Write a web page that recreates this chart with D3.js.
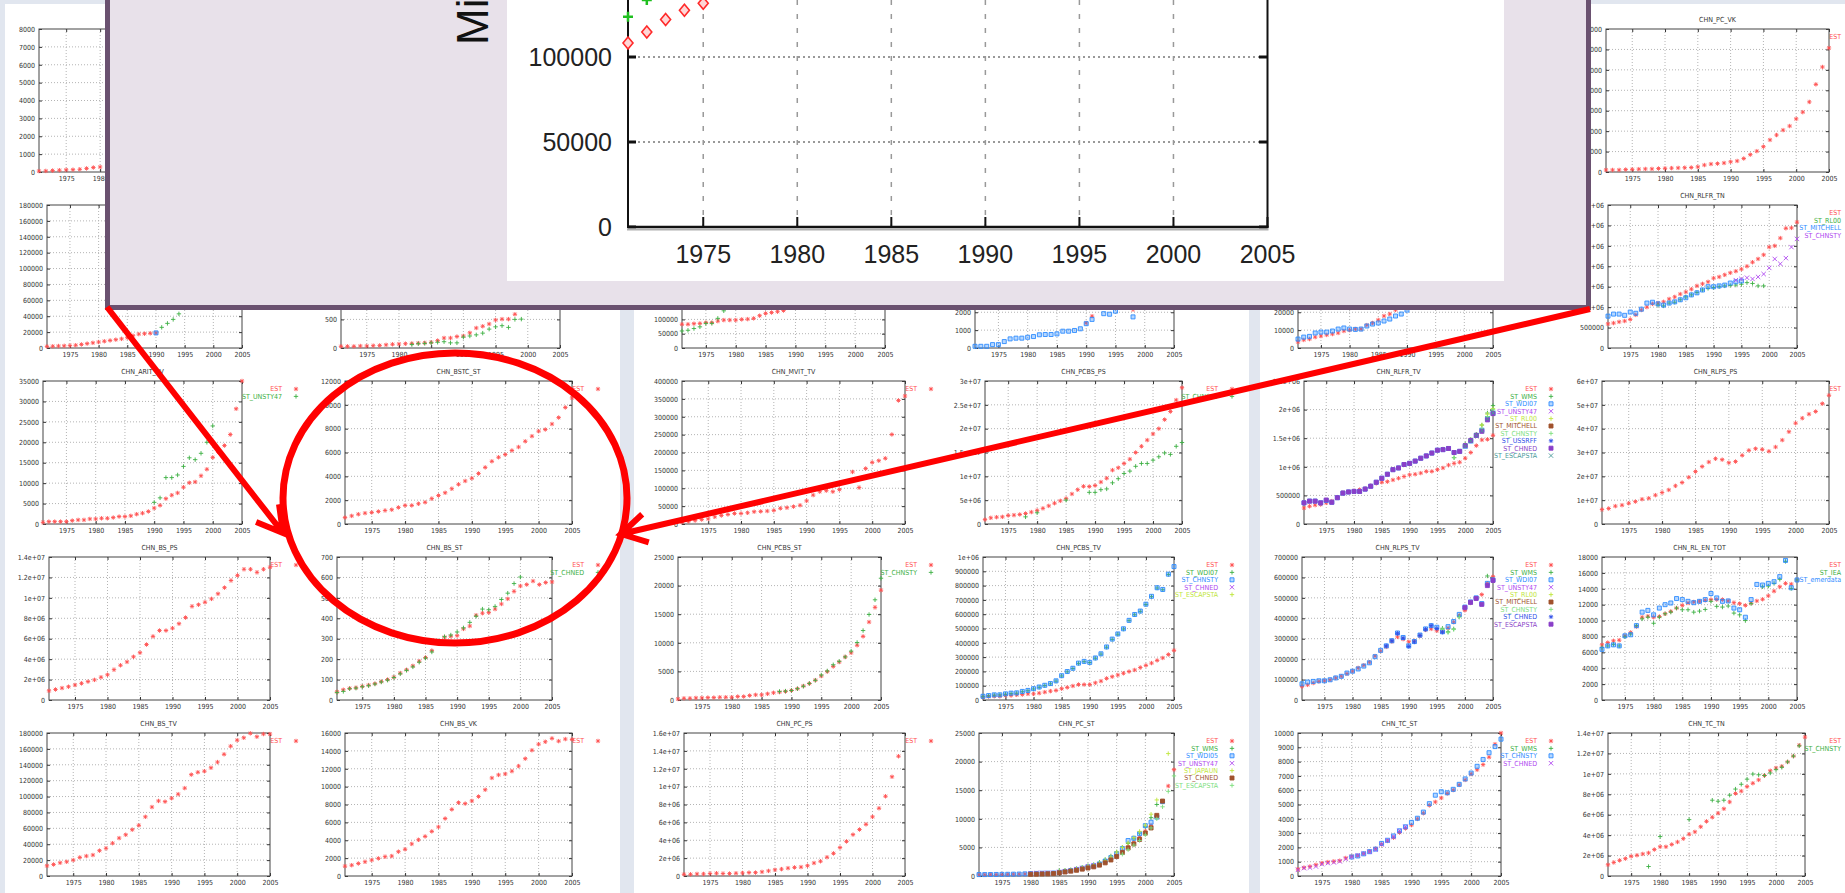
<!DOCTYPE html>
<html>
<head>
<meta charset="utf-8">
<script src="https://cdn.jsdelivr.net/npm/d3@7"></script>
<style>
  body { margin: 0; background: #e1e6ef; overflow: hidden; }
  svg { display: block; }
</style>
</head>
<body>
<svg id="chart" width="1845" height="893"></svg>
<script>
// x axis shared by every small plot
const xTicks = [1975, 1980, 1985, 1990, 1995, 2000, 2005];

// ---- panel 1 ----
const p1r1Est = [50, 60, 80, 100, 120, 130, 150, 200, 250, 280];
const p1r2Est = [2000, 2200, 2500, 2700, 3000, 3500, 4500, 5500, 6500, 7500, 8500, 9500, 10500, 11500, 13000, 15500, 17500, 18000, 18500, 19000];
const p1r2Green = [26000, 31000, 36000, 43000];
const p1r2Blue = [19000];
const p1r2bEst = [29, 29, 29, 35, 35, 40, 45, 55, 65, 70, 75, 80, 85, 90, 100, 130, 175, 175, 200, 210, 265, 350, 380, 420, 490, 505, 505, 590];
const p1r2bGreen = [60, 75, 80, 90, 100, 110, 90, 90, 190, 210, 230, 260, 330, 370, 390, 360, 500, 505];
const aritEst = [400, 580, 580, 580, 580, 830, 1000, 1000, 1240, 1240, 1400, 1400, 1575, 1820, 1820, 2000, 2400, 2650, 3070, 3900, 4560, 6200, 7050, 7600, 9000, 10100, 10300, 11800, 13400, 16300, 17500, 19200, 21900, 28200, 35000];
const aritUnsty = [5300, 6400, 11360, 11360, 12000, 14100, 16200, 15750, 17300, 20000, 24000];
const bstcEst = [540, 680, 820, 910, 970, 1050, 1140, 1200, 1390, 1560, 1560, 1700, 1820, 2130, 2390, 2620, 2960, 3330, 3610, 3840, 4240, 4750, 5260, 5600, 5830, 6170, 6460, 6940, 7370, 7790, 7930, 8390, 8930, 9780, 10580];
const bsPsEst = [0.9e6, 1.03e6, 1.17e6, 1.3e6, 1.47e6, 1.63e6, 1.8e6, 1.97e6, 2.23e6, 2.47e6, 2.97e6, 3.4e6, 3.73e6, 4.23e6, 4.63e6, 5.43e6, 6.23e6, 6.8e6, 6.8e6, 7.03e6, 7.47e6, 8.07e6, 9.17e6, 9.33e6, 9.57e6, 9.9e6, 10.4e6, 11.0e6, 11.7e6, 12.2e6, 12.8e6, 12.8e6, 12.5e6, 12.8e6, 13.0e6];
const bsStEst = [40, 50, 57, 60, 67, 73, 80, 90, 100, 112, 132, 148, 167, 190, 208, 242, 278, 308, 312, 315, 348, 362, 415, 425, 428, 445, 470, 495, 532, 558, 565, 582, 565, 575, 578];
const bsStChned = [37, 42, 55, 58, 65, 70, 78, 88, 97, 110, 128, 145, 162, 185, 205, 235, 290, 310, 318, 333, 353, 380, 410, 445, 442, 458, 492, 523, 570, 602];
const bsTvEst = [12800, 14500, 16600, 17900, 20000, 23400, 25100, 26400, 31900, 34900, 41300, 47700, 51900, 58300, 63800, 74500, 86800, 94500, 93600, 97900, 103000, 110600, 127600, 130600, 131900, 136200, 143400, 153200, 163400, 171000, 174000, 179600, 175300, 178700, 178700];
const bsVkEst = [1100, 1210, 1400, 1590, 1780, 1970, 2160, 2230, 2720, 2990, 3590, 4050, 4430, 4990, 5490, 6430, 7450, 8210, 8100, 8400, 8890, 9650, 10970, 11310, 11420, 11730, 12300, 13130, 14070, 14750, 15020, 15400, 15090, 15320, 15280];

// ---- panel 2 ----
const p2r2Est = [83000, 83000, 85000, 86000, 89000, 89000, 94000, 97600, 97600, 97600, 100000, 101000, 103600, 113000, 121000, 124000, 127000, 131000];
const p2r2Green = [59500, 62000, 68000, 74000, 86000, 86000, 103600, 130000, 141700];
const p2r2bEst = [1400, 1780, null, null, null, null, null, null, 2150];
const p2r2bBlue = [95, 95, 95, 190, 190, 360, 510, 550, 550, 600, 640, 740, 755, 755, 790, 940, 940, 980, 1075, 1360, 1600, null, 1920, 1890, 2060, null, null, 1740];
const mvitEst = [4800, 7600, 9500, 12400, 14300, 20000, 23800, 26700, 29500, 29500, 31400, 34300, 35200, 36200, 38100, 43800, 45700, 48600, 52400, 64700, 80900, 90400, 93300, 90400, 96200, 118000, 145700, 101900, 155200, 172300, 177100, 183700, 250400, 345600, 358000];
const pcbsPsEst = [0.93e6, 1.29e6, 1.43e6, 1.5e6, 1.79e6, 1.86e6, 2.0e6, 2.2e6, 2.5e6, 2.86e6, 3.29e6, 3.8e6, 4.36e6, 4.86e6, 5.36e6, 6.3e6, 7.2e6, 7.9e6, 7.86e6, 8.07e6, 8.8e6, 9.6e6, 11.3e6, 11.8e6, 12.7e6, 13.6e6, 15.0e6, 16.3e6, 17.6e6, 18.9e6, 20.0e6, 21.9e6, 23.6e6, 26.0e6, 28.6e6];
const pcbsPsChnsty = [1.5e6, null, 2.36e6, null, null, null, null, 5.0e6, null, null, null, 6.64e6, 6.64e6, 7.2e6, 7.36e6, 8.64e6, 9.5e6, 10.6e6, 11.1e6, 12.1e6, 12.7e6, 12.7e6, 13.4e6, 14.1e6, 14.9e6, 14.6e6, 16.3e6, 17.1e6];
const pcbsStEst = [180, 300, 300, 360, 360, 420, 420, 480, 480, 480, 600, 600, 780, 900, 900, 1080, 1260, 1380, 1500, 1670, 1970, 2450, 2870, 3470, 4190, 4960, 5860, 6640, 7530, 8250, 9570, 11120, 13630, 16200, 19200];
const pcbsStChnsty = [1500, 1560, 1670, 1970, 2400, 2900, 3450, 4370, 5080, 6160, 6760, 7530, 8550, 10050, 12140, 14950, 17520, 21290];
const pcbsTvEst = [19000, 24000, 26000, 26000, 31000, 31000, 36000, 38000, 43000, 43000, 48000, 55000, 62000, 67000, 79000, 88000, 98000, 108000, 108000, 108000, 120000, 132000, 151000, 163000, 175000, 187000, 199000, 210000, 227000, 242000, 258000, 277000, 294000, 318000, 347000];
const pcbsTvWdi = [24000, 29000, 34000, 36000, 41000, 46000, 48000, 58000, 65000, 77000, 89000, 101000, 113000, 132000, 168000, 197000, 220000, 256000, 268000, 262000, 292000, 321000, 369000, 424000, 460000, 496000, 555000, 596000, 620000, 668000, 723000, 783000, 771000, 878000];
const pcbsTvChnsty = [26000, 31000, 36000, 36000, 43000, 48000, 50000, 60000, 67000, 79000, 91000, 103000, 115000, 134000, 170000, 199000, 222000, 258000, 270000, 263000, 294000, 323000, 371000, 426000, 462000, 498000, 557000, 598000, 622000, 670000, 725000, 785000, 773000, 880000, 933000];
const pcPsEst = [0.19e6, 0.19e6, 0.23e6, 0.23e6, 0.27e6, 0.31e6, 0.27e6, 0.27e6, 0.31e6, 0.34e6, 0.38e6, 0.38e6, 0.46e6, 0.57e6, 0.69e6, 0.77e6, 0.88e6, 0.96e6, 1.0e6, 1.15e6, 1.45e6, 1.65e6, 2.1e6, 2.53e6, 3.18e6, 3.87e6, 4.63e6, 5.2e6, 5.78e6, 6.62e6, 7.58e6, 8.92e6, 11.1e6, 13.4e6];
const pcStEst = [200, 220, 240, 250, 260, 280, 300, 320, 350, 400, 420, 450, 480, 500, 620, 780, 900, 1080, 1260, 1500, 1670, 1970, 2450, 2990, 3650, 4370, 5140, 5860, 6760, 7830, 8850, 10460, 13040, 15730, 18600];
const pcStWms = [960, 1000, 1100, 1300, 1500, 1800, 2000, 2400, 2900, 3500, 4200, 5000, 5700, 6500, 7500, 8600, 10200, 12500];
const pcStWdi = [250, 250, 260, 270, 280, 300, 320, 340, 370, 420, 450, 480, 500, 520, 650, 800, 950, 1150, 1350, 1600, 1800, 2100, 2600, 3200, 3900, 4800, 6200, 6600, 7400, 8800, 9400, 10300, 13000];
const pcStUnsty = [450, 500, 550, 550, 550, 700, 800, 900, 1200, 1400, 1700, 1900];
const pcStJapaun = [780, 900, 1000, 1200, 1400, 1700, 1900, 2200, 2700, 3300, 4200, 5000, 5800, 6700, 7800, 8900, 10800, 13300, null, 21400];
const pcStChned = [300, 320, 350, 380, 420, 550, 700, 850, 1000, 1200, 1400, 1600, 1900, 2300, 2800, 3400, 4100, 4900, 5600, 6400, 7500, 8400, 10600, 13100];
const pcStEscap = [3800, 4600, 5400, 6200, 7200, 8400, 10000, 12100, 14800, 17500];

// ---- panel 3 ----
const pcVkEst = [10000, 10000, 10000, 12000, 13000, 14000, 15000, 15000, 17000, 18000, 19000, 20000, 21000, 22000, 25000, 34000, 39000, 41000, 44000, 50000, 54000, 66000, 85000, 102000, 124000, 157000, 181000, 205000, 225000, 260000, 293000, 343000, 429000, 514000, 607000];
const p3r2Est = [3400, 4500, 5000, 6100, 6700, 7300, 7800, 8400, 9500, 10000, 10600, 10600, 12800, 14000, 15700, 17900, 19000, 21300];
const p3r2Blue = [5000, 6100, 6500, 8400, 8900, 8900, 9500, 10600, 11200, 10600, 10400, 10600, 12300, 13400, 14000, 15100, 16200, 17900, 19000, 21200];
const rlfrTnEst = [0.59e6, 0.61e6, 0.64e6, 0.66e6, 0.70e6, 0.81e6, 0.93e6, 1.0e6, 1.08e6, 1.1e6, 1.13e6, 1.2e6, 1.25e6, 1.32e6, 1.37e6, 1.44e6, 1.52e6, 1.57e6, 1.62e6, 1.71e6, 1.74e6, 1.79e6, 1.84e6, 1.88e6, 1.93e6, 2.0e6, 2.1e6, 2.18e6, 2.28e6, 2.47e6, 2.5e6, 2.69e6, 2.93e6, 2.94e6, 3.08e6];
const rlfrTnRl00 = [1.05e6, 1.03e6, 1.1e6, 1.12e6, 1.18e6, 1.25e6, 1.3e6, 1.36e6, 1.42e6, 1.46e6, 1.48e6, 1.5e6, 1.52e6, 1.53e6, 1.54e6, 1.56e6, 1.6e6, 1.58e6, 1.52e6, 1.52e6];
const rlfrTnMitchell = [0.78e6, 0.83e6, 0.83e6, 0.8e6, 0.88e6, 0.85e6, 0.95e6, 1.1e6, 1.12e6, 1.08e6, 1.05e6, 1.1e6, 1.13e6, 1.18e6, 1.23e6, 1.3e6, 1.35e6, 1.42e6, 1.5e6, 1.5e6, 1.52e6, 1.54e6, 1.59e6, 1.62e6, 1.64e6];
const rlfrTnChnsty = [1.66e6, 1.69e6, 1.72e6, 1.69e6, 1.74e6, 1.81e6, 1.96e6, 2.18e6, 2.06e6, 2.2e6, 2.47e6, 2.67e6];
const rlfrTvEst = [0.28e6, 0.31e6, 0.33e6, 0.34e6, 0.37e6, 0.40e6, 0.46e6, 0.55e6, 0.56e6, 0.58e6, 0.6e6, 0.62e6, 0.67e6, 0.71e6, 0.73e6, 0.74e6, 0.77e6, 0.8e6, 0.83e6, 0.86e6, 0.87e6, 0.89e6, 0.92e6, 0.92e6, 0.95e6, 0.98e6, 1.03e6, 1.06e6, 1.08e6, 1.15e6, 1.25e6, 1.37e6, 1.47e6, 1.48e6, 1.55e6];
const rlfrTvWms = [1.29e6, 1.31e6, 1.32e6, 1.16e6, 1.27e6, 1.40e6, 1.48e6, 1.57e6, 1.73e6, 1.94e6, 2.07e6];
const rlfrTvWdi = [0.37e6, 0.40e6, 0.40e6, 0.37e6, 0.41e6, 0.38e6, 0.46e6, 0.54e6, 0.56e6, 0.57e6, 0.57e6, 0.61e6, 0.66e6, 0.73e6, 0.80e6, 0.87e6, 0.95e6, 0.98e6, 1.04e6, 1.06e6, 1.10e6, 1.15e6, 1.19e6, 1.24e6, 1.29e6, 1.30e6, 1.32e6, 1.25e6, 1.27e6, 1.36e6, 1.45e6, 1.55e6, 1.64e6, 1.84e6, 1.94e6];
const rlfrTvRl00 = [1.38e6, 1.47e6, 1.56e6, 1.73e6, 1.92e6, 2.02e6];
const rlfrTvChnsty = [0.8e6, 0.87e6, 0.95e6, 0.98e6, 1.04e6, 1.06e6, 1.10e6, 1.15e6, 1.19e6, 1.24e6, 1.29e6, 1.3e6, 1.32e6, 1.16e6, 1.27e6, 1.38e6, 1.47e6, 1.55e6, 1.66e6, 1.88e6, 2.0e6];
const rlfrTvChned = [0.37e6, 0.40e6, 0.40e6, 0.37e6, 0.42e6, 0.38e6, 0.46e6, 0.54e6, 0.56e6, 0.57e6, 0.57e6, 0.61e6, 0.66e6, 0.73e6, 0.80e6, 0.87e6, 0.95e6, 0.98e6, 1.04e6, 1.06e6, 1.10e6, 1.15e6, 1.19e6, 1.24e6, 1.29e6, 1.30e6, 1.32e6, 1.25e6, 1.27e6, 1.37e6, 1.46e6, 1.55e6, 1.62e6, 1.82e6, 1.93e6];
const rlfrTvEscap = [1.36e6, 1.45e6, 1.55e6, 1.63e6, 1.84e6, 1.94e6];
const rlpsPsEst = [0.61e7, 0.65e7, 0.75e7, 0.79e7, 0.87e7, 0.94e7, 1.04e7, 1.08e7, 1.21e7, 1.32e7, 1.43e7, 1.6e7, 1.74e7, 1.96e7, 2.2e7, 2.41e7, 2.6e7, 2.74e7, 2.7e7, 2.57e7, 2.62e7, 2.88e7, 3.09e7, 3.16e7, 3.13e7, 3.05e7, 3.23e7, 3.52e7, 3.87e7, 4.23e7, 4.44e7, 4.61e7, 4.72e7, 5.05e7, 5.4e7];
const rlpsTvEst = [66000, 74000, 83000, 91000, 94000, 99000, 108000, 116000, 129000, 141000, 157000, 170000, 185000, 215000, 240000, 260000, 286000, 309000, 298000, 285000, 290000, 314000, 343000, 348000, 339000, 334000, 352000, 381000, 414000, 439000, 475000, 497000, 516000, 571000, 604000];
const rlpsTvWms = [351000, 334000, 348000, 409000, null, null, null, null, 607000];
const rlpsTvWdi = [79000, 88000, 91000, 94000, 94000, 99000, 108000, 116000, 132000, 141000, 152000, 166000, 182000, 212000, 243000, 265000, 290000, 328000, 306000, 265000, 286000, 318000, 348000, 364000, 356000, 334000, 359000, 384000, 419000, 455000, 480000, 500000, 472000, 571000, 588000];
const rlpsTvChnsty = [345000, 330000, 345000, 405000];
const rlpsTvChned = [265000, 290000, 326000, 303000, 262000, 284000, 316000, 346000, 364000, 350000, 332000];
const rlpsTvEscap = [452000, 478000, 497000, 468000, 560000, 585000];
const rlEnEst = [6940, 7230, 7450, 7530, 8080, 8510, 9230, 10420, 10550, 10420, 10510, 10850, 11150, 11570, 11910, 12210, 12340, 12420, 12550, 12640, 12640, 12640, 12470, 12250, 12130, 11910, 12210, 12470, 12680, 13110, 13700, 14250, 14680, 14590, 15110];
const rlEnIea = [6600, 6800, 7000, 6800, 7960, 8300, 9360, 10210, 10420, 9660, 10420, 10850, 11060, 11570, 11360, 11360, 11060, 11190, 11400, 12420, 11790, 11700, 11830, 10940, 10720, 10000, 12130, null, 14250, 14340, 14680, 15190, 17450, 14040, 15110];
const rlEnEmer = [6380, 6810, 6940, 6810, 8080, 8210, 9360, 11060, 11280, 10720, 11570, 12000, 12210, 12770, 12640, 12420, 12250, 12420, 12640, 13400, 12850, 12420, 12470, 11570, 11360, 10420, 12640, 14550, 14470, 14680, 14890, 15530, 17570, 14130, 15110];
const tcStEst = [475, 590, 665, 780, 900, 975, 1020, 1070, 1260, 1380, 1425, 1570, 1730, 1920, 2210, 2450, 2680, 3040, 3330, 3560, 3990, 4390, 4940, 5180, 5460, 5770, 6010, 6370, 6720, 7130, 7430, 7790, 8310, 9220, 10000];
const tcStChnsty = [1330, 1400, 1550, 1700, 1880, 2280, 2500, 2800, 3160, 3440, 3750, 4040, 4470, 5060, 5650, 5890, 5820, 6060, 6410, 6790, 7200, 7670, 8150, 8620, 9050, 9570];
const tcStChned = [430, 550, 590, 665, 830, 900, 950, 1020, 1190, 1330, 1450, 1570, 1690, 1850, 2210, 2490, 2750, 3160, 3440];
const tcTnEst = [1.1e6, 1.33e6, 1.53e6, 1.7e6, 1.93e6, 2.03e6, 2.16e6, 2.26e6, 2.59e6, 2.86e6, 2.86e6, 3.09e6, 3.33e6, 3.66e6, 4.09e6, 4.32e6, 4.82e6, 5.35e6, 5.75e6, 6.15e6, 6.58e6, 7.25e6, 8.08e6, 8.31e6, 8.75e6, 9.08e6, 9.41e6, 9.84e6, 10.3e6, 10.57e6, 10.74e6, 11.17e6, 11.74e6, 12.8e6, 13.6e6];
const tcTnChnsty = [0.93e6, null, 3.86e6, null, null, null, null, 5.52e6, null, null, null, 7.42e6, 7.32e6, 7.42e6, 7.91e6, 8.51e6, 8.98e6, 9.48e6, 9.98e6, 9.91e6, 9.84e6, 10.08e6, 10.41e6, 10.64e6, 11.17e6, 11.74e6, 12.74e6];

// ---- magnified plot in the overlay ----
const bigEst = [108200, 114700, 122000, 127500, 131600];
const bigGreen = [123700, 133500];
const bigYTicks = [0, 50000, 100000];

// each plot: panel, column, row, title, y range, key names, [first year, values] per series
const charts = [
  { p: 0, c: 0, r: 0, title: "", yMax: 8000, yStep: 1000, key: ["EST"], series: [[1971, p1r1Est]] },
  { p: 0, c: 0, r: 1, title: "", yMax: 180000, yStep: 20000, key: ["", "", ""], keyChars: 10, series: [[1971, p1r2Est], [1991, p1r2Green], [1990, p1r2Blue]] },
  { p: 0, c: 1, r: 1, title: "", yMax: 2500, yStep: 500, key: ["", ""], keyChars: 6, series: [[1971, p1r2bEst], [1982, p1r2bGreen]] },
  { p: 0, c: 0, r: 2, title: "CHN_ARIT_TV", yMax: 35000, yStep: 5000, key: ["EST", "ST_UNSTY47"], series: [[1971, aritEst], [1990, aritUnsty]] },
  { p: 0, c: 1, r: 2, title: "CHN_BSTC_ST", yMax: 12000, yStep: 2000, key: ["EST"], series: [[1971, bstcEst]] },
  { p: 0, c: 0, r: 3, title: "CHN_BS_PS", yMax: 1.4e7, yStep: 2e6, key: ["EST"], series: [[1971, bsPsEst]] },
  { p: 0, c: 1, r: 3, title: "CHN_BS_ST", yMax: 700, yStep: 100, key: ["EST", "ST_CHNED"], series: [[1971, bsStEst], [1971, bsStChned]] },
  { p: 0, c: 0, r: 4, title: "CHN_BS_TV", yMax: 180000, yStep: 20000, key: ["EST"], series: [[1971, bsTvEst]] },
  { p: 0, c: 1, r: 4, title: "CHN_BS_VK", yMax: 16000, yStep: 2000, key: ["EST"], series: [[1971, bsVkEst]] },

  { p: 1, c: 0, r: 1, title: "", yMax: 500000, yStep: 50000, key: ["", ""], keyChars: 8, series: [[1971, p2r2Est], [1971, p2r2Green]] },
  { p: 1, c: 1, r: 1, title: "", yMax: 8000, yStep: 1000, key: ["", "", ""], keyChars: 11, series: [[1990, p2r2bEst], [1971, []], [1971, p2r2bBlue]] },
  { p: 1, c: 0, r: 2, title: "CHN_MVIT_TV", yMax: 400000, yStep: 50000, key: ["EST"], series: [[1971, mvitEst]] },
  { p: 1, c: 1, r: 2, title: "CHN_PCBS_PS", yMax: 3e7, yStep: 5e6, key: ["EST", "ST_CHNSTY"], series: [[1971, pcbsPsEst], [1978, pcbsPsChnsty]] },
  { p: 1, c: 0, r: 3, title: "CHN_PCBS_ST", yMax: 25000, yStep: 5000, key: ["EST", "ST_CHNSTY"], series: [[1971, pcbsStEst], [1988, pcbsStChnsty]] },
  { p: 1, c: 1, r: 3, title: "CHN_PCBS_TV", yMax: 1e6, yStep: 1e5, key: ["EST", "ST_WDI07", "ST_CHNSTY", "ST_CHNED", "ST_ESCAPSTA"], series: [[1971, pcbsTvEst], [1971, pcbsTvWdi], [1971, pcbsTvChnsty]] },
  { p: 1, c: 0, r: 4, title: "CHN_PC_PS", yMax: 1.6e7, yStep: 2e6, key: ["EST"], series: [[1971, pcPsEst]] },
  { p: 1, c: 1, r: 4, title: "CHN_PC_ST", yMax: 25000, yStep: 5000, key: ["EST", "ST_WMS", "ST_WDI05", "ST_UNSTY47", "ST_JAPAUN", "ST_CHNED", "ST_ESCAPSTA"],
    series: [[1971, pcStEst], [1985, pcStWms], [1971, pcStWdi], [1980, pcStUnsty], [1985, pcStJapaun], [1980, pcStChned], [1996, pcStEscap]] },

  { p: 2, c: 1, r: 0, title: "CHN_PC_VK", yMax: 700000, yStep: 100000, key: ["EST"], series: [[1971, pcVkEst]] },
  { p: 2, c: 0, r: 1, title: "", yMax: 80000, yStep: 10000, key: ["", "", ""], keyChars: 11, series: [[1971, p3r2Est], [1971, []], [1971, p3r2Blue]] },
  { p: 2, c: 1, r: 1, title: "CHN_RLFR_TN", yMax: 3.5e6, yStep: 5e5, key: ["EST", "ST_RL00", "ST_MITCHELL", "ST_CHNSTY"],
    series: [[1971, rlfrTnEst], [1980, rlfrTnRl00], [1971, rlfrTnMitchell], [1994, rlfrTnChnsty]] },
  { p: 2, c: 0, r: 2, title: "CHN_RLFR_TV", yMax: 2.5e6, yStep: 5e5,
    key: ["EST", "ST_WMS", "ST_WDI07", "ST_UNSTY47", "ST_RL00", "ST_MITCHELL", "ST_CHNSTY", "ST_USSRFF", "ST_CHNED", "ST_ESCAPSTA"],
    series: [[1971, rlfrTvEst], [1995, rlfrTvWms], [1971, rlfrTvWdi], [1971, []], [2000, rlfrTvRl00], [1971, []], [1985, rlfrTvChnsty], [1971, []], [1971, rlfrTvChned], [2000, rlfrTvEscap]] },
  { p: 2, c: 1, r: 2, title: "CHN_RLPS_PS", yMax: 6e7, yStep: 1e7, key: ["EST"], series: [[1971, rlpsPsEst]] },
  { p: 2, c: 0, r: 3, title: "CHN_RLPS_TV", yMax: 700000, yStep: 100000,
    key: ["EST", "ST_WMS", "ST_WDI07", "ST_UNSTY47", "ST_RL00", "ST_MITCHELL", "ST_CHNSTY", "ST_CHNED", "ST_ESCAPSTA"],
    series: [[1971, rlpsTvEst], [1996, rlpsTvWms], [1971, rlpsTvWdi], [1971, []], [1971, []], [1971, []], [1996, rlpsTvChnsty], [1986, rlpsTvChned], [2000, rlpsTvEscap]] },
  { p: 2, c: 1, r: 3, title: "CHN_RL_EN_TOT", yMax: 18000, yStep: 2000, key: ["EST", "ST_IEA", "ST_emerdata"], series: [[1971, rlEnEst], [1971, rlEnIea], [1971, rlEnEmer]] },
  { p: 2, c: 0, r: 4, title: "CHN_TC_ST", yMax: 10000, yStep: 1000, key: ["EST", "ST_WMS", "ST_CHNSTY", "ST_CHNED"], series: [[1971, tcStEst], [1971, []], [1980, tcStChnsty], [1971, tcStChned]] },
  { p: 2, c: 1, r: 4, title: "CHN_TC_TN", yMax: 1.4e7, yStep: 2e6, key: ["EST", "ST_CHNSTY"], series: [[1971, tcTnEst], [1978, tcTnChnsty]] }
];

// gnuplot-like palette and point types by series index
const COLORS = ["#ff5050", "#3cb043", "#2f8cff", "#b048f0", "#bfe63c", "#a0522d", "#7ee07e", "#2f4fe8", "#8a3fc8", "#4a9a9a"];
const MARKS = ["star", "plus", "box", "cross", "plus", "fbox", "plus", "star", "fbox", "cross"];
const SMALL_FONT = "'DejaVu Sans Condensed', 'Liberation Sans Narrow', 'DejaVu Sans', sans-serif";

const panels = [[5, 620], [634, 1249], [1260, 1845]];
const cellX = [[5, 307], [640, 941], [1260, 1564]];
// area covered by the magnifier box
const cover = { x0: 105, x1: 1591, y1: 310 };

const svg = d3.select('#chart');

function gfmt(v) {
  if (v === 0) return "0";
  if (Math.abs(v) >= 1e6) {
    const parts = v.toExponential().split("e");
    const m = String(+(+parts[0]).toFixed(5));
    const e = +parts[1];
    return m + "e" + (e < 0 ? "-" : "+") + String(Math.abs(e)).padStart(2, "0");
  }
  return String(v);
}

// rough width of the tiny gnuplot font
function textW(s) {
  let w = 0;
  for (const ch of s) w += ch === '.' ? 2 : 4;
  return w;
}

function markPath(type, px, py) {
  const s = 2.2, t = 1.6;
  if (type === 'plus') return `M${px - s},${py}H${px + s}M${px},${py - s}V${py + s}`;
  if (type === 'cross') return `M${px - s},${py - s}L${px + s},${py + s}M${px - s},${py + s}L${px + s},${py - s}`;
  if (type === 'star') return `M${px - s},${py}H${px + s}M${px},${py - s}V${py + s}M${px - t},${py - t}L${px + t},${py + t}M${px - t},${py + t}L${px + t},${py - t}`;
  return `M${px - 2},${py - 2}h4v4h-4Z`;
}

function styleMark(sel, i) {
  const type = MARKS[i];
  sel.attr('stroke', COLORS[i]).attr('stroke-width', 0.9)
    .attr('fill', type === 'fbox' || type === 'box' ? COLORS[i] : 'none')
    .attr('fill-opacity', type === 'box' ? 0.35 : 1);
}

// background panels
svg.append('rect').attr('width', 1845).attr('height', 893).attr('fill', '#e1e6ef');
panels.forEach(p => {
  svg.append('rect').attr('x', p[0]).attr('y', 4).attr('width', p[1] - p[0]).attr('height', 889).attr('fill', '#fff');
});

function drawChart(c) {
  const cx = cellX[c.p][c.c], cy = 4 + 176 * c.r;
  const ticks = d3.range(0, c.yMax + c.yStep / 2, c.yStep);
  const lw = d3.max(ticks, t => textW(gfmt(t)));
  const left = cx + 13 + lw + 5;
  const kc = c.keyChars != null ? c.keyChars : d3.max(c.key, k => k.length);
  const right = cx + 277 - kc * 4;
  const top = cy + 25, bottom = cy + 168;

  const x = d3.scaleLinear().domain([1971, 2005]).range([left, right]);
  const y = d3.scaleLinear().domain([0, c.yMax]).range([bottom, top]);

  const g = svg.append('g').attr('font-family', SMALL_FONT).attr('font-size', 7);

  // dotted grid
  g.append('g').selectAll('line').data(xTicks.filter(t => t < 2005)).join('line')
    .attr('x1', d => x(d)).attr('x2', d => x(d)).attr('y1', top).attr('y2', bottom)
    .attr('stroke', '#b4b4b4').attr('stroke-dasharray', '1,2');
  g.append('g').selectAll('line').data(ticks.filter(t => t > 0 && t < c.yMax)).join('line')
    .attr('x1', left).attr('x2', right).attr('y1', d => y(d)).attr('y2', d => y(d))
    .attr('stroke', '#b4b4b4').attr('stroke-dasharray', '1,2');

  const ax = (axis, tr) => g.append('g').attr('transform', tr).call(axis)
    .call(s => s.select('.domain').remove())
    .attr('font-family', SMALL_FONT).attr('font-size', 7).attr('color', '#333');
  ax(d3.axisLeft(y).tickValues(ticks).tickFormat(gfmt).tickSize(-3).tickPadding(4), `translate(${left},0)`);
  ax(d3.axisRight(y).tickValues(ticks).tickFormat(() => '').tickSize(-3), `translate(${right},0)`);
  ax(d3.axisBottom(x).tickValues(xTicks).tickFormat(d3.format('d')).tickSize(-3).tickPadding(4), `translate(0,${bottom})`);
  ax(d3.axisTop(x).tickValues(xTicks).tickFormat(() => '').tickSize(-3), `translate(0,${top})`);

  g.append('rect').attr('x', left).attr('y', top).attr('width', right - left).attr('height', bottom - top)
    .attr('fill', 'none').attr('stroke', '#444').attr('stroke-width', 1);

  if (c.title) {
    g.append('text').attr('x', (left + right) / 2).attr('y', cy + 16).attr('dy', '0.35em')
      .attr('text-anchor', 'middle').attr('fill', '#333').text(c.title);
  }

  c.series.forEach(([start, vals], i) => {
    const pts = vals.map((v, j) => ({ yr: start + j, v })).filter(d => d.v != null);
    g.append('g').selectAll('path').data(pts).join('path')
      .attr('d', d => markPath(MARKS[i], x(d.yr), y(d.v)))
      .call(styleMark, i);
  });

  c.key.forEach((k, i) => {
    if (!k) return;
    const yy = top + 8 + 7.4 * i;
    g.append('text').attr('x', cx + 277).attr('y', yy).attr('dy', '0.35em')
      .attr('text-anchor', 'end').attr('fill', COLORS[i]).text(k);
    g.append('path').attr('d', markPath(MARKS[i], cx + 291, yy)).call(styleMark, i);
  });

  // texts lying wholly under the magnifier box are never seen: drop them
  g.selectAll('text').each(function () {
    const b = this.getBoundingClientRect();
    if (b.width > 0 && b.left >= cover.x0 && b.right <= cover.x1 && b.bottom <= cover.y1) this.remove();
  });
}

charts.forEach(drawChart);

// ---- overlay with the magnified plot ----
const ov = svg.append('g');
ov.append('rect').attr('x', 107.5).attr('y', -10).attr('width', 1481).attr('height', 317.5)
  .attr('fill', '#e8e1ea').attr('stroke', '#6a5170').attr('stroke-width', 5);
ov.append('rect').attr('x', 507).attr('y', -5).attr('width', 997).attr('height', 286).attr('fill', '#fff');

const bx = d3.scaleLinear().domain([1971, 2005]).range([628, 1267.5]);
const by = d3.scaleLinear().domain([0, 50000]).range([227, 142]);

ov.append('g').selectAll('line').data(xTicks.filter(t => t < 2005)).join('line')
  .attr('x1', d => bx(d)).attr('x2', d => bx(d)).attr('y1', 0).attr('y2', 227)
  .attr('stroke', '#999').attr('stroke-width', 1.5).attr('stroke-dasharray', '5,9');
ov.append('g').selectAll('line').data(bigYTicks.filter(t => t > 0)).join('line')
  .attr('x1', 628).attr('x2', 1267.5).attr('y1', d => by(d)).attr('y2', d => by(d))
  .attr('stroke', '#999').attr('stroke-width', 2).attr('stroke-dasharray', '2,3');

// ticks
ov.append('g').selectAll('line').data(xTicks).join('line')
  .attr('x1', d => bx(d)).attr('x2', d => bx(d)).attr('y1', 227).attr('y2', 217)
  .attr('stroke', '#111').attr('stroke-width', 2);
ov.append('g').selectAll('line').data(bigYTicks).join('line')
  .attr('x1', 1259).attr('x2', 1267.5).attr('y1', d => by(d)).attr('y2', d => by(d))
  .attr('stroke', '#111').attr('stroke-width', 3);
ov.append('g').selectAll('line').data(bigYTicks).join('line')
  .attr('x1', 628).attr('x2', 636).attr('y1', d => by(d)).attr('y2', d => by(d))
  .attr('stroke', '#111').attr('stroke-width', 3);

// frame
ov.append('line').attr('x1', 628).attr('x2', 628).attr('y1', -5).attr('y2', 228).attr('stroke', '#111').attr('stroke-width', 2);
ov.append('line').attr('x1', 1267.5).attr('x2', 1267.5).attr('y1', -5).attr('y2', 228).attr('stroke', '#111').attr('stroke-width', 2);
ov.append('line').attr('x1', 627).attr('x2', 1268.5).attr('y1', 227).attr('y2', 227).attr('stroke', '#111').attr('stroke-width', 2.5);
ov.append('line').attr('x1', 627).attr('x2', 1268.5).attr('y1', 229.5).attr('y2', 229.5).attr('stroke', '#b0b0b0').attr('stroke-width', 2);

// labels
const bigFont = "'Liberation Sans', Arial, sans-serif";
ov.append('g').selectAll('text').data(bigYTicks).join('text')
  .attr('x', 612).attr('y', d => by(d)).attr('dy', '0.36em').attr('text-anchor', 'end')
  .attr('font-family', bigFont).attr('font-size', 25).attr('fill', '#222').text(d => d);
ov.append('g').selectAll('text').data(xTicks).join('text')
  .attr('x', d => bx(d)).attr('y', 254).attr('dy', '0.36em').attr('text-anchor', 'middle')
  .attr('font-family', bigFont).attr('font-size', 25).attr('fill', '#222').text(d => d);
ov.append('text').attr('transform', 'translate(488,45) rotate(-90)')
  .attr('font-family', bigFont).attr('font-size', 44).attr('fill', '#111').text('Mi');

// points
ov.append('g').selectAll('path').data(bigEst.map((v, j) => ({ yr: 1971 + j, v }))).join('path')
  .attr('d', d => { const px = bx(d.yr), py = by(d.v); return `M${px},${py - 6}L${px + 5},${py}L${px},${py + 6}L${px - 5},${py}Z`; })
  .attr('fill', '#ffd6d6').attr('stroke', '#ff2a2a').attr('stroke-width', 1.6);
ov.append('g').selectAll('path').data(bigGreen.map((v, j) => ({ yr: 1971 + j, v }))).join('path')
  .attr('d', d => { const px = bx(d.yr), py = by(d.v); return `M${px - 5},${py}H${px + 5}M${px},${py - 5}V${py + 5}`; })
  .attr('stroke', '#1fbf1f').attr('stroke-width', 2.5);

// ---- red callouts ----
const callouts = svg.append('g').attr('stroke', '#ff0000').attr('fill', 'none');
callouts.append('ellipse').attr('cx', 455).attr('cy', 498).attr('rx', 172).attr('ry', 145).attr('stroke-width', 7);

function arrow(x0, y0, x1, y1) {
  const len = Math.hypot(x1 - x0, y1 - y0);
  const ux = (x1 - x0) / len, uy = (y1 - y0) / len;
  const wing = a => {
    const c = Math.cos(a), s = Math.sin(a);
    return [x1 - 29 * (ux * c - uy * s), y1 - 29 * (ux * s + uy * c)];
  };
  const w1 = wing(Math.PI / 6), w2 = wing(-Math.PI / 6);
  callouts.append('path').attr('stroke-width', 6)
    .attr('d', `M${x0},${y0}L${x1},${y1}M${w1[0]},${w1[1]}L${x1},${y1}L${w2[0]},${w2[1]}`);
}
arrow(107, 307, 283, 533);
arrow(1590, 309, 621, 534);
</script>
</body>
</html>
